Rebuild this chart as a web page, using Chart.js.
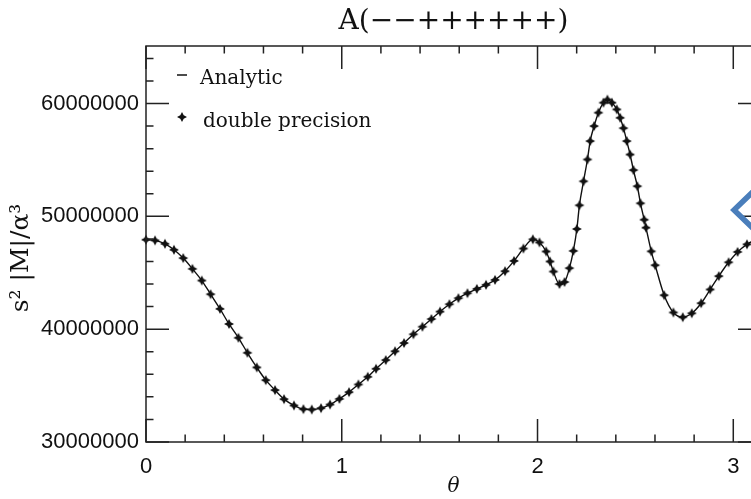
<!DOCTYPE html>
<html>
<head>
<meta charset="utf-8">
<script src="https://cdn.jsdelivr.net/npm/chart.js@4.4.1/dist/chart.umd.min.js"></script>
<style>
  html, body { margin: 0; padding: 0; background: #fff; overflow: hidden; width: 751px; height: 499px; }
  #wrap { position: absolute; left: 0; top: 0; width: 907px; height: 499px; }
  #arrow { position: absolute; left: 0; top: 0; }
</style>
</head>
<body>
<div id="wrap"><canvas id="plot" width="907" height="499"></canvas></div>
<svg id="arrow" width="751" height="499"><polyline points="760,185 734,210 760,235" fill="none" stroke="#4a7ebb" stroke-width="5.5"/></svg>
<script>
// scattering angle and |M| scaled by s^2/alpha^3
const theta = [
  0.000, 0.046, 0.097, 0.143, 0.190, 0.237, 0.285, 0.330, 0.378, 0.424,
  0.472, 0.518, 0.566, 0.612, 0.659, 0.705, 0.756, 0.804, 0.847, 0.894,
  0.940, 0.988, 1.037, 1.085, 1.133, 1.175, 1.225, 1.272, 1.318, 1.366,
  1.412, 1.458, 1.502, 1.550, 1.596, 1.642, 1.690, 1.737, 1.783, 1.834,
  1.880, 1.928, 1.976, 2.010, 2.044, 2.064, 2.081, 2.112, 2.138, 2.163,
  2.183, 2.201, 2.214, 2.235, 2.255, 2.269, 2.289, 2.311, 2.337, 2.357,
  2.380, 2.405, 2.422, 2.439, 2.456, 2.473, 2.490, 2.510, 2.526, 2.545,
  2.554, 2.581, 2.601, 2.647, 2.694, 2.742, 2.788, 2.836, 2.882, 2.926,
  2.976, 3.022, 3.070, 3.118
];
const amplitude = [
  47930000, 47870000, 47570000, 47040000, 46300000, 45350000, 44310000, 43100000, 41800000, 40460000,
  39240000, 37910000, 36610000, 35480000, 34600000, 33800000, 33240000, 32910000, 32880000, 33000000,
  33320000, 33820000, 34420000, 35100000, 35780000, 36490000, 37260000, 38040000, 38770000, 39550000,
  40220000, 40900000, 41560000, 42210000, 42750000, 43190000, 43570000, 43930000, 44370000, 45140000,
  46050000, 47150000, 47960000, 47690000, 46890000, 46000000, 45110000, 44000000, 44180000, 45410000,
  46940000, 48880000, 50980000, 53110000, 55040000, 56670000, 58000000, 59190000, 60080000, 60350000,
  60080000, 59480000, 58740000, 57820000, 56670000, 55480000, 54100000, 52670000, 51160000, 49700000,
  49000000, 46900000, 45670000, 43010000, 41480000, 41060000, 41410000, 42300000, 43520000, 44700000,
  45930000, 46850000, 47520000, 47950000
];

const xMajorTicks = [0, 1, 2, 3];
const yMajorTicks = [30000000, 40000000, 50000000, 60000000];
const xMinorStep = 0.2;
const yMinorStep = 2000000;
const legendNames = ['Analytic', 'double precision'];
const plotTitle = 'A(\u2212\u2212++++++)';
const yTitle = 's\u00b2 |M|/\u03b1\u00b3';

const INK = '#111';
const points = theta.map((t, i) => ({ x: t, y: amplitude[i] }));

// four-pointed star used for the double precision points
function makeStar(r, w) {
  const c = document.createElement('canvas');
  const s = 2 * r + 2;
  c.width = c.height = s;
  const g = c.getContext('2d');
  const m = s / 2;
  g.fillStyle = INK;
  g.beginPath();
  g.moveTo(m, m - r); g.lineTo(m + w, m - w); g.lineTo(m + r, m); g.lineTo(m + w, m + w);
  g.lineTo(m, m + r); g.lineTo(m - w, m + w); g.lineTo(m - r, m); g.lineTo(m - w, m - w);
  g.closePath();
  g.fill();
  return c;
}
const star = makeStar(5, 1.7);

// box around the plot with inward ticks on all four sides, title, y label and legend
const framePlugin = {
  id: 'frame',
  afterDraw(chart) {
    const { ctx, chartArea: a, scales: { x, y } } = chart;
    const major = 23, minor = 7.5;
    ctx.save();
    ctx.strokeStyle = '#222';
    ctx.lineWidth = 1.5;
    ctx.strokeRect(a.left, a.top, a.right - a.left, a.bottom - a.top);
    ctx.beginPath();
    for (let i = 0; i * xMinorStep <= x.max + 1e-9; i++) {
      const v = +(i * xMinorStep).toFixed(6);
      const len = xMajorTicks.includes(v) ? major : minor;
      const px = x.getPixelForValue(v);
      ctx.moveTo(px, a.bottom); ctx.lineTo(px, a.bottom - len);
      ctx.moveTo(px, a.top); ctx.lineTo(px, a.top + len);
    }
    for (let i = 0; y.min + i * yMinorStep <= y.max; i++) {
      const v = y.min + i * yMinorStep;
      const len = yMajorTicks.includes(v) ? major : minor;
      const py = y.getPixelForValue(v);
      ctx.moveTo(a.left, py); ctx.lineTo(a.left + len, py);
      ctx.moveTo(a.right, py); ctx.lineTo(a.right - len, py);
    }
    ctx.stroke();

    ctx.fillStyle = INK;
    ctx.textAlign = 'center';
    ctx.textBaseline = 'middle';
    ctx.font = '28px "DejaVu Serif"';
    ctx.fillText(plotTitle, (a.left + a.right) / 2, 22);

    ctx.save();
    ctx.translate(21, 258);
    ctx.rotate(-Math.PI / 2);
    ctx.font = '25px "DejaVu Serif"';
    ctx.fillText(yTitle, 0, 0);
    ctx.restore();

    // legend in the upper left corner
    ctx.lineWidth = 1.5;
    ctx.strokeStyle = INK;
    ctx.beginPath();
    ctx.moveTo(a.left + 31, a.top + 29);
    ctx.lineTo(a.left + 41, a.top + 29);
    ctx.stroke();
    ctx.drawImage(star, a.left + 36 - star.width / 2, a.top + 71 - star.height / 2);
    ctx.font = '20px "DejaVu Serif"';
    ctx.textBaseline = 'alphabetic';
    ctx.textAlign = 'left';
    ctx.fillText(legendNames[0], a.left + 54, a.top + 38);
    ctx.fillText(legendNames[1], a.left + 57, a.top + 81);
    ctx.restore();
  }
};

const tickFont = { family: '"Liberation Sans", Arial, sans-serif', size: 22 };

new Chart(document.getElementById('plot'), {
  type: 'scatter',
  data: {
    datasets: [
      {
        label: legendNames[0],
        data: points,
        showLine: true,
        pointRadius: 0,
        borderColor: INK,
        borderWidth: 1.4,
        cubicInterpolationMode: 'monotone'
      },
      {
        label: legendNames[1],
        data: points,
        showLine: false,
        pointStyle: star,
        clip: 8
      }
    ]
  },
  options: {
    responsive: false,
    animation: false,
    devicePixelRatio: 1,
    layout: { padding: { left: 0, right: 146, top: 46, bottom: 0 } },
    plugins: {
      legend: { display: false },
      tooltip: { enabled: false },
      title: { display: false }
    },
    scales: {
      x: {
        type: 'linear',
        min: 0,
        max: Math.PI,
        afterBuildTicks: s => { s.ticks = xMajorTicks.map(v => ({ value: v })); },
        afterFit: s => { s.height = 57; },
        grid: { display: false, drawTicks: false },
        border: { display: false },
        ticks: { color: INK, font: tickFont, padding: 12, maxRotation: 0 },
        title: {
          display: true,
          text: '\u03b8',
          color: INK,
          font: { family: '"DejaVu Serif"', size: 20, style: 'italic' },
          padding: { top: 0, bottom: 0 }
        }
      },
      y: {
        min: 30000000,
        max: 65100000,
        afterBuildTicks: s => { s.ticks = yMajorTicks.map(v => ({ value: v })); },
        afterFit: s => { s.width = 146; },
        grid: { display: false, drawTicks: false },
        border: { display: false },
        ticks: { color: INK, font: tickFont, padding: 7, callback: v => String(v) }
      }
    }
  },
  plugins: [framePlugin]
});
</script>
</body>
</html>
